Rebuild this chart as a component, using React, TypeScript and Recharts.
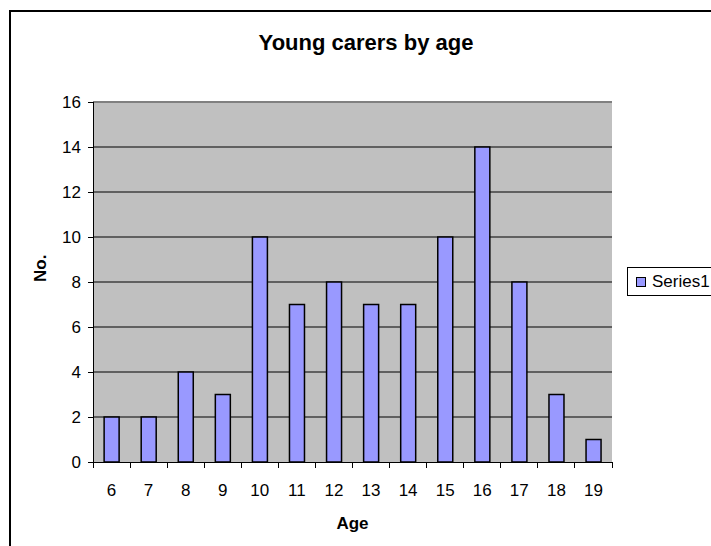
import { BarChart, Bar, XAxis, YAxis, CartesianGrid, ReferenceLine } from 'recharts'

const AGES = ['6', '7', '8', '9', '10', '11', '12', '13', '14', '15', '16', '17', '18', '19']
const COUNTS = [2, 2, 4, 3, 10, 7, 8, 7, 7, 10, 14, 8, 3, 1]
const Y_TICKS = [0, 2, 4, 6, 8, 10, 12, 14, 16]
const GRID_LINES = [2, 4, 6, 8, 10, 12, 14]

const data = AGES.map((age, i) => ({ age, Series1: COUNTS[i] }))

const FONT = '"Liberation Sans", Arial, sans-serif'
const BAR_FILL = '#9999FF'

// category axis: tick marks sit between the bars, labels in the middle
function AgeTick(props: any) {
  const { x, y, payload, index } = props
  const half = payload?.offset ?? 18.5
  return (
    <g shapeRendering="crispEdges">
      <line x1={x - half} y1={y - 8} x2={x - half} y2={y - 2} stroke="#000" />
      {index === AGES.length - 1 && <line x1={x + half} y1={y - 8} x2={x + half} y2={y - 2} stroke="#000" />}
      <text x={x} y={y + 26} textAnchor="middle" fontSize={17} fontFamily={FONT} fill="#000">
        {payload.value}
      </text>
    </g>
  )
}

export default function App() {
  return (
    <div style={{ position: 'absolute', left: 0, top: 0, width: 711, height: 546, background: '#fff', overflow: 'hidden' }}>
      <div style={{ position: 'absolute', left: 9, top: 10, width: 720, height: 560, borderLeft: '2px solid #000', borderTop: '2px solid #000' }} />
      <div style={{ position: 'absolute', left: 10, top: 32, width: 712, lineHeight: '22px', textAlign: 'center', fontFamily: FONT, fontWeight: 'bold', fontSize: 22 }}>
        Young carers by age
      </div>
      <BarChart
        width={711}
        height={546}
        data={data}
        margin={{ top: 102, right: 99, left: 53, bottom: 54 }}
        barCategoryGap="30%"
        style={{ position: 'absolute', left: 0, top: 0 }}
      >
        <CartesianGrid
          fill="#C0C0C0"
          stroke="#000"
          vertical={false}
          horizontal={{ shapeRendering: 'crispEdges' } as any}
          horizontalValues={GRID_LINES}
        />
        <XAxis
          dataKey="age"
          height={30}
          interval={0}
          tickLine={false}
          axisLine={{ stroke: '#000', shapeRendering: 'crispEdges' } as any}
          tick={<AgeTick />}
          label={{ value: 'Age', position: 'insideBottom', offset: -37, fontSize: 17, fontWeight: 'bold', fontFamily: FONT, fill: '#000' }}
        />
        <YAxis
          width={40}
          domain={[0, 16]}
          ticks={Y_TICKS}
          interval={0}
          tickSize={5}
          tickMargin={7}
          tickLine={{ stroke: '#000', shapeRendering: 'crispEdges' } as any}
          axisLine={{ stroke: '#000', shapeRendering: 'crispEdges' } as any}
          tick={{ fontSize: 17, fontFamily: FONT, fill: '#000' }}
          label={{ value: 'No.', angle: -90, position: 'insideLeft', offset: -13, fontSize: 17, fontWeight: 'bold', fontFamily: FONT, fill: '#000' }}
        />
        <YAxis yAxisId="r" orientation="right" width={0} domain={[0, 16]} tick={false} tickLine={false} axisLine={{ stroke: '#808080', strokeWidth: 2 }} />
        <ReferenceLine y={16} stroke="#808080" strokeWidth={2} />
        <Bar dataKey="Series1" fill={BAR_FILL} stroke="#000" strokeWidth={1.5} isAnimationActive={false} />
      </BarChart>
      <div style={{ position: 'absolute', left: 627, top: 267, width: 120, height: 29, border: '1px solid #000', background: '#fff', boxSizing: 'border-box', display: 'flex', alignItems: 'center', paddingLeft: 8, fontFamily: FONT, fontSize: 17 }}>
        <span style={{ display: 'inline-block', width: 10, height: 10, boxSizing: 'border-box', background: BAR_FILL, border: '1px solid #000', marginRight: 6 }} />
        Series1
      </div>
    </div>
  )
}
